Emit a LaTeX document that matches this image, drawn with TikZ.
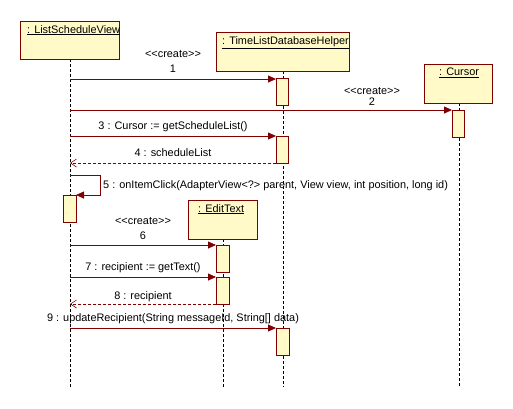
\documentclass[tikz,border=0pt]{standalone}
\usepackage{fontspec}
\setmainfont{Liberation Sans}
\usetikzlibrary{arrows.meta}
\definecolor{umlred}{RGB}{128,0,0}
\definecolor{umlfill}{RGB}{255,250,200}
\newcommand{\crt}{<\kern0pt<create>\kern0pt>}
\tikzset{
  obj/.style={draw=umlred, fill=umlfill, line width=0.8pt},
  act/.style={draw=umlred, fill=umlfill, line width=0.8pt},
  life/.style={dash pattern=on 3pt off 2pt, line width=0.7pt},
  msg/.style={draw=umlred, line width=0.8pt, -{Triangle[length=8pt,width=7pt]}},
  ret/.style={draw=umlred, line width=0.7pt, dash pattern=on 3pt off 2pt, -{Straight Barb[length=6pt,width=8pt,line width=0.6pt]}},
  lbl/.style={font=\fontsize{10.9}{12}\selectfont, inner sep=0pt},
  ttl/.style={font=\fontsize{10.9}{12}\selectfont, inner sep=0pt, anchor=north west},
}
\begin{document}
\begin{tikzpicture}[x=1pt,y=-1pt]
\useasboundingbox (0,0) rectangle (513,408);
% lifelines
\draw[life] (70,59) -- (70,387);
\draw[life] (283,71) -- (283,387);
\draw[life] (459,103) -- (459,387);
\draw[life] (223,239) -- (223,387);
% object boxes
\draw[obj] (20,21) rectangle (119,59);
\node[ttl] (t1) at (27,25) {\underline{: ListScheduleView}};
\draw[obj] (216,32) rectangle (349,71);
\node[ttl] (t2) at (222,36) {\underline{: TimeListDatabaseHelper}};
\draw[obj] (424,64) rectangle (492,103);
\node[ttl] (t3) at (439,68) {\underline{: Cursor}};
\draw[obj] (188,200) rectangle (257,239);
\node[ttl] (t4) at (198,204) {\underline{: EditText}};
% activations
\draw[act] (276,78) rectangle (288,105);
\draw[act] (452,110) rectangle (464,137);
\draw[act] (276,136) rectangle (288,163);
\draw[act] (63,195) rectangle (76,222);
\draw[act] (216,245) rectangle (229,272);
\draw[act] (216,277) rectangle (229,304);
\draw[act] (276,328) rectangle (289,355);
% coordinates
\coordinate (a1s) at (70,79);  \coordinate (a1e) at (276,79);
\coordinate (a2s) at (70,110); \coordinate (a2e) at (452,110);
\coordinate (a3s) at (70,136); \coordinate (a3e) at (276,136);
\coordinate (a4s) at (276,163); \coordinate (a4e) at (70,163);
\coordinate (a6s) at (70,245); \coordinate (a6e) at (216,245);
\coordinate (a7s) at (70,277); \coordinate (a7e) at (216,277);
\coordinate (a8s) at (216,304); \coordinate (a8e) at (70,304);
\coordinate (a9s) at (70,328); \coordinate (a9e) at (276,328);
% messages
\draw[msg] (a1s) -- (a1e);
\node[lbl] (l1a) at (173,54) {\crt};
\node[lbl] (l1b) at (173,69) {1};
\draw[msg] (a2s) -- (a2e);
\node[lbl] (l2a) at (372,91) {\crt};
\node[lbl] (l2b) at (372,102) {2};
\draw[msg] (a3s) -- (a3e);
\node[lbl] (l3) at (173,127) {3 : Cursor := getScheduleList()};
\draw[ret] (a4s) -- (a4e);
\node[lbl] (l4) at (173,153) {4 : scheduleList};
\draw[msg] (70,175) -- (100,175) -- (100,195) -- (76,195);
\node[lbl, anchor=west] (l5) at (103,186) {5 : onItemClick(AdapterView<?> parent, View view, int position, long id)};
\draw[msg] (a6s) -- (a6e);
\node[lbl] (l6a) at (143,221) {\crt};
\node[lbl] (l6b) at (143,236) {6};
\draw[msg] (a7s) -- (a7e);
\node[lbl] (l7) at (143,268) {7 : recipient := getText()};
\draw[ret] (a8s) -- (a8e);
\node[lbl] (l8) at (143,297) {8 : recipient};
\draw[msg] (a9s) -- (a9e);
\node[lbl] (l9) at (173,319) {9 : updateRecipient(String messageId, String[] data)};
\end{tikzpicture}
\end{document}
